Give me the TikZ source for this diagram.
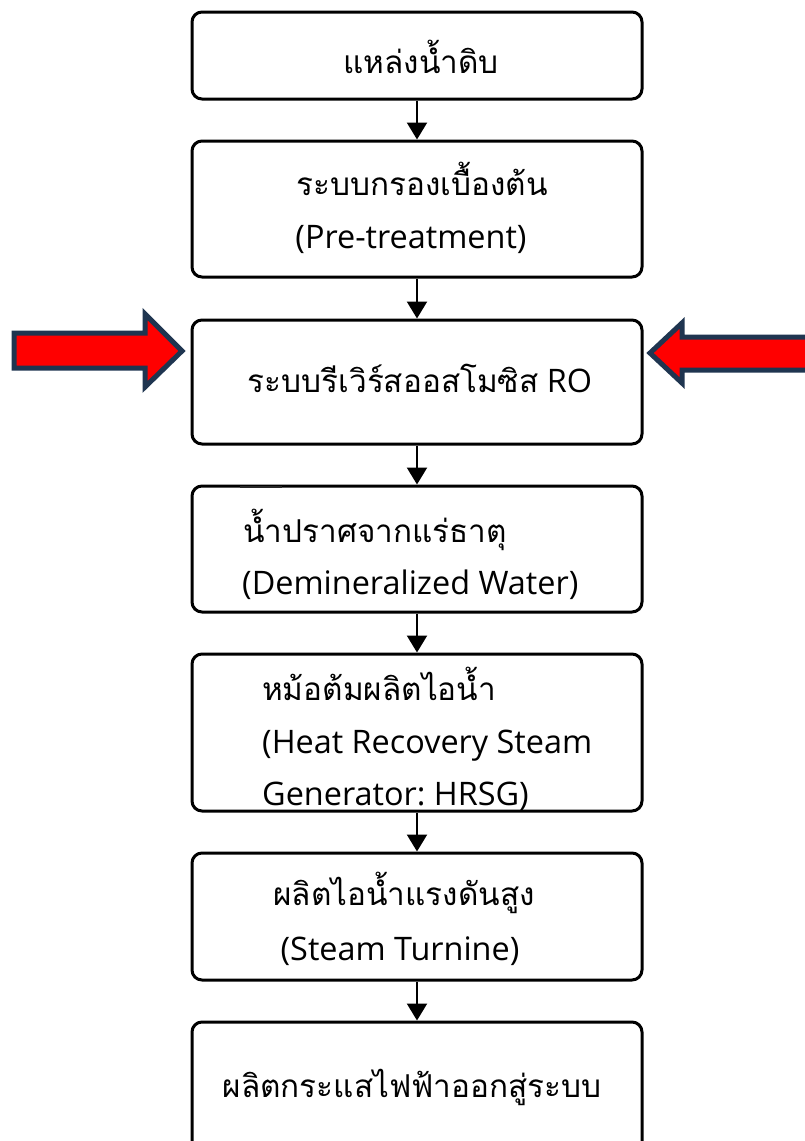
\documentclass[tikz,border=0pt]{standalone}
\usepackage{fontspec}
\newfontfamily\thai[Script=Thai]{Loma}
\newfontfamily\lat{Open Sans}
\usetikzlibrary{arrows.meta}
\definecolor{navy}{HTML}{1F3550}
\definecolor{arrowred}{HTML}{FF0000}
\newcommand{\thtxt}[1]{{\thai\fontsize{31.5}{36}\selectfont #1}}
\newcommand{\latxt}[1]{{\lat\fontsize{32.4}{36}\selectfont #1}}
\tikzset{
  box/.style={draw=black, line width=3pt, rounded corners=10pt, minimum width=450pt, inner sep=0pt},
  flow/.style={line width=2.3pt, -{Triangle[width=20pt,length=17pt]}},
  txt/.style={inner sep=0pt},
  bigarrow/.style={draw=navy, fill=arrowred, line width=5pt, line join=miter},
}
\frenchspacing
\begin{document}
\begin{tikzpicture}[x=1pt,y=-1pt]
\useasboundingbox (0,0) rectangle (805,1141);
\clip (0,0) rectangle (805,1141);
\fill[white] (0,0) rectangle (805,1141);
% boxes
\node[box, minimum height=87pt]  (b1) at (417,55.5) {};
\node[box, minimum height=136pt] (b2) at (417,209) {};
\node[box, minimum height=124pt] (b3) at (417,382) {};
\node[box, minimum height=126pt] (b4) at (417,549) {};
\node[box, minimum height=157pt] (b5) at (417,732.5) {};
\node[box, minimum height=127pt] (b6) at (417,916.5) {};
\node[box, minimum height=140pt] (b7) at (417,1092) {};
% connectors
\draw[flow] (b1.south) -- (b2.north);
\draw[flow] (b2.south) -- (b3.north);
\draw[flow] (b3.south) -- (b4.north);
\draw[flow] (b4.south) -- (b5.north);
\draw[flow] (b5.south) -- (b6.north);
\draw[flow] (b6.south) -- (b7.north);
% texts
\node[txt, anchor=base] (t1) at (421,73) {\thtxt{แหล่งน้ำดิบ}};
\node[txt, anchor=base] (t2a) at (422,195) {\thtxt{ระบบกรองเบื้องต้น}};
\node[txt, anchor=base] (t2b) at (411,248) {\latxt{(Pre-treatment)}};
\node[txt, anchor=base] (t3) at (420,392) {\thtxt{ระบบรีเวิร์สออสโมซิส}\latxt{\ RO}};
\node[txt, anchor=base west] (t4a) at (243,542) {\thtxt{น้ำปราศจากแร่ธาตุ}};
\node[txt, anchor=base west] (t4b) at (242,594) {\latxt{(Demineralized Water)}};
\node[txt, anchor=base west] (t5a) at (262,700) {\thtxt{หม้อต้มผลิตไอน้ำ}};
\node[txt, anchor=base west] (t5b) at (262,753) {\latxt{(Heat Recovery Steam}};
\node[txt, anchor=base west] (t5c) at (262,805) {\latxt{Generator: HRSG)}};
\node[txt, anchor=base] (t6a) at (404,905) {\thtxt{ผลิตไอน้ำแรงดันสูง}};
\node[txt, anchor=base] (t6b) at (400,960) {\latxt{(Steam Turnine)}};
\node[txt, anchor=base] (t7) at (412,1097) {\thtxt{ผลิตกระแสไฟฟ้าออกสู่ระบบ}};
% stray mark
\draw[line width=2.5pt, black!85] (240,487) -- (282,487);
% red arrows
\draw[bigarrow] (14,333) -- (145,333) -- (145,314) -- (182,351) -- (145,387) -- (145,368) -- (14,368) -- cycle;
\draw[bigarrow] (650,353) -- (682,323) -- (682,337) -- (815,337) -- (815,370) -- (682,370) -- (682,383) -- cycle;
\end{tikzpicture}
\end{document}
